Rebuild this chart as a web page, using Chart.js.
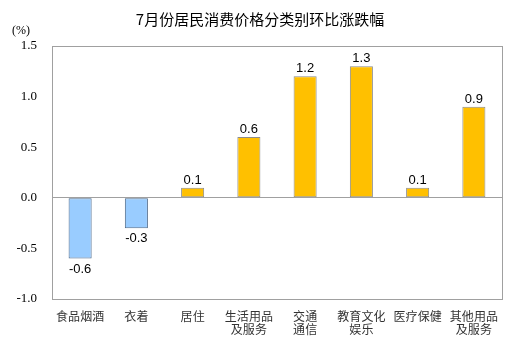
<!DOCTYPE html>
<html><head><meta charset="utf-8">
<script src="https://cdn.jsdelivr.net/npm/chart.js@4/dist/chart.umd.min.js"></script>
<style>html,body{margin:0;padding:0;background:#fff;}canvas{display:block;}</style>
</head><body>
<canvas id="c" width="521" height="352"></canvas>
<script>
const title = "7月份居民消费价格分类别环比涨跌幅";
const unitLabel = "(%)";
const categories = [["食品烟酒"],["衣着"],["居住"],["生活用品","及服务"],["交通","通信"],["教育文化","娱乐"],["医疗保健"],["其他用品","及服务"]];
const values = [-0.6, -0.3, 0.1, 0.6, 1.2, 1.3, 0.1, 0.9];
const yTicks = [-1.0, -0.5, 0.0, 0.5, 1.0, 1.5];

const serif = '"Liberation Serif", "Times New Roman", serif';
const posColor = "#FFC000", negColor = "#99CCFF";
const overlay = {
  id: "overlay",
  afterDatasetsDraw(chart) {
    const ctx = chart.ctx, a = chart.chartArea;
    ctx.save();
    ctx.strokeStyle = "#A0A0A0"; ctx.lineWidth = 1;
    ctx.strokeRect(Math.round(a.left)+0.5, Math.round(a.top)+0.5, Math.round(a.right-a.left), Math.round(a.bottom-a.top));
    ctx.fillStyle = "#000"; ctx.font = "13px Arial, 'Liberation Sans', sans-serif"; ctx.textAlign = "center";
    const meta = chart.getDatasetMeta(0);
    meta.data.forEach((bar, i) => {
      const v = values[i];
      const t = v.toFixed(1);
      if (v >= 0) { ctx.textBaseline = "bottom"; ctx.fillText(t, bar.x, bar.y - 1); }
      else { ctx.textBaseline = "top"; ctx.fillText(t, bar.x, bar.y + 4); }
    });
    ctx.font = "15px 'Noto Sans CJK SC', sans-serif"; ctx.textBaseline = "middle"; ctx.fillStyle = "#000";
    ctx.fillText(title, 260, 19);
    ctx.font = "12px " + serif; ctx.textAlign = "left";
    ctx.fillText(unitLabel, 12, 31);
    ctx.restore();
  }
};

new Chart(document.getElementById("c"), {
  type: "bar",
  data: {
    labels: categories,
    datasets: [{
      data: values,
      backgroundColor: values.map(v => v < 0 ? negColor : posColor),
      borderColor: values.map(v => v < 0 ? "#4D6A8A" : "#8C8C8C"),
      borderWidth: 1,
      borderSkipped: false,
      barPercentage: 0.82,
      categoryPercentage: 0.5
    }]
  },
  options: {
    responsive: false, animation: false,
    layout: { padding: { top: 46, right: 19, left: 0, bottom: 0 } },
    plugins: { legend: { display: false }, tooltip: { enabled: false } },
    scales: {
      x: {
        grid: { display: false, drawTicks: false },
        border: { display: false },
        ticks: { color: "#333", font: { family: "'Noto Sans CJK SC', sans-serif", size: 12, lineHeight: 1.1 }, padding: 11, maxRotation: 0, autoSkip: false },
        afterFit(s) { s.height = 53; }
      },
      y: {
        min: -1.0, max: 1.5,
        afterBuildTicks(s) { s.ticks = yTicks.map(v => ({ value: v })); },
        grid: { drawTicks: false, color: ctx => (ctx.tick && ctx.tick.value === 0) ? "#A0A0A0" : "rgba(0,0,0,0)" },
        border: { display: false },
        ticks: { color: "#000", font: { family: serif, size: 13 }, padding: 15, callback: v => Number(v).toFixed(1) },
        afterFit(s) { s.width = 52; }
      }
    }
  },
  plugins: [overlay]
});
</script>
</body></html>
